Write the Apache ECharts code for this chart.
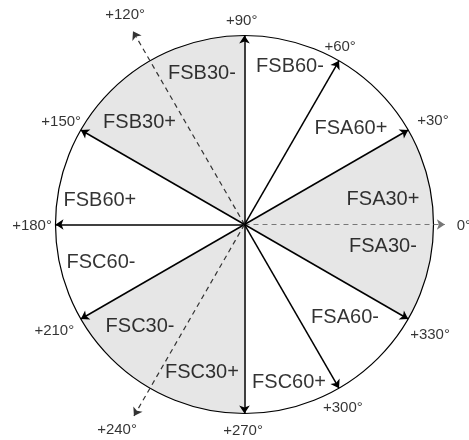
<!DOCTYPE html>
<html><head><meta charset="utf-8">
<script src="https://cdn.jsdelivr.net/npm/echarts@6/dist/echarts.min.js"></script>
<style>html,body{margin:0;padding:0;background:#fff}#c{width:469px;height:440px}</style>
</head><body><div id="c"></div>
<script>
// Sectors, counter-clockwise from 0°
const sectorNames = ['FSA30+','FSA60+','FSB60-','FSB30-','FSB30+','FSB60+','FSC60-','FSC30-','FSC30+','FSC60+','FSA60-','FSA30-'];
const sectorSpan = [30,30,30,30,30,30,30,30,30,30,30,30];
const sectorShaded = [1,0,0,1,1,0,0,1,1,0,0,1];
const sectorLabelR = [0.745,0.760,0.868,0.828,0.776,0.776,0.786,0.771,0.817,0.866,0.726,0.742];
const sectorLabelAngle = [10.4,42.2,73.9,105.8,135.7,170.4,195,224.2,254,285.8,317.1,350.8];

// Arrows
const arrowAngles = [0,30,60,90,120,150,180,210,240,270,300,330];
const arrowLength = [1.06,1,1,1,1.18,1,1,1,1.17,1,1,1];
const arrowDashed = [1,0,0,0,1,0,0,0,1,0,0,0];

// Degree labels
const degreeLabels = ['0°','+30°','+60°','+90°','+120°','+150°','+180°','+210°','+240°','+270°','+300°','+330°'];
const degreeLabelR = [1.161,1.138,1.067,1.079,1.275,1.111,1.124,1.153,1.280,1.090,1.101,1.143];
const degreeLabelAngle = [359.6,28.8,61.7,90.8,119.7,150.8,180.4,209.2,238.2,269.6,298.2,329.2];

const CX = 244.5, CY = 224.5, R = 189, OUTER = 1.3;
const FONT = '"Liberation Sans", Arial, sans-serif';

const chart = echarts.init(document.getElementById('c'), null, {renderer: 'canvas'});

const arrowData = arrowAngles.map((a, i) => {
  const dashed = arrowDashed[i] === 1;
  const color = dashed ? (a === 0 ? '#777777' : '#333333') : '#000000';
  return [
    {coord: [0, a]},
    {coord: [arrowLength[i], a], lineStyle: {color: color, width: dashed ? 1.2 : 1.5, type: dashed ? [5, 4] : 'solid'},
      itemStyle: {color: color}}
  ];
});

const option = {
  animation: false,
  backgroundColor: '#ffffff',
  polar: [
    {center: [CX, CY], radius: [0, R]},
    {center: [CX, CY], radius: [0, R * OUTER]}
  ],
  angleAxis: [
    {polarIndex: 0, type: 'value', min: 0, max: 360, startAngle: 0, clockwise: false, z: 3,
      axisLine: {show: true, lineStyle: {color: '#000', width: 1.2}},
      axisTick: {show: false}, axisLabel: {show: false}, splitLine: {show: false}},
    {polarIndex: 1, type: 'value', min: 0, max: 360, startAngle: 0, clockwise: false,
      axisLine: {show: false}, axisTick: {show: false}, axisLabel: {show: false}, splitLine: {show: false}}
  ],
  radiusAxis: [
    {polarIndex: 0, type: 'value', min: 0, max: 1, show: false},
    {polarIndex: 1, type: 'value', min: 0, max: OUTER, show: false}
  ],
  series: [
    {
      type: 'pie', z: 1, silent: true,
      center: [CX, CY], radius: [0, R],
      startAngle: 0, clockwise: false,
      label: {show: false}, labelLine: {show: false},
      itemStyle: {borderWidth: 0},
      data: sectorNames.map((n, i) => ({
        name: n, value: sectorSpan[i],
        itemStyle: {color: sectorShaded[i] ? '#e6e6e6' : '#ffffff'}
      }))
    },
    {
      type: 'line', coordinateSystem: 'polar', polarIndex: 1, z: 4,
      data: [], silent: true,
      markLine: {
        silent: true, animation: false,
        symbol: ['none', 'arrow'], symbolSize: 8,
        label: {show: false},
        data: arrowData
      }
    },
    {
      type: 'scatter', coordinateSystem: 'polar', polarIndex: 1, z: 5, silent: true,
      symbolSize: 1, itemStyle: {color: 'rgba(0,0,0,0)'},
      label: {show: true, position: 'inside', formatter: p => p.name,
        color: '#000', fontSize: 20, fontFamily: FONT, align: 'center', verticalAlign: 'middle'},
      data: sectorNames.map((n, i) => ({name: n, value: [sectorLabelR[i], sectorLabelAngle[i]]}))
    },
    {
      type: 'scatter', coordinateSystem: 'polar', polarIndex: 1, z: 5, silent: true,
      symbolSize: 1, itemStyle: {color: 'rgba(0,0,0,0)'},
      label: {show: true, position: 'inside', formatter: p => p.name,
        color: '#000', fontSize: 15, fontFamily: FONT, align: 'center', verticalAlign: 'middle'},
      data: degreeLabels.map((n, i) => ({name: n, value: [degreeLabelR[i], degreeLabelAngle[i]]}))
    }
  ]
};
chart.setOption(option);
</script>
</body></html>
